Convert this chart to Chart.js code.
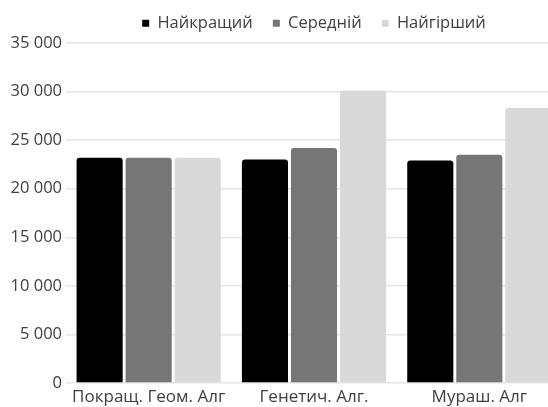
<!DOCTYPE html>
<html>
<head>
<meta charset="utf-8">
<script src="https://cdn.jsdelivr.net/npm/chart.js@4"></script>
<style>
  html, body { margin: 0; padding: 0; background: #fff; overflow: hidden; }
  #wrap { position: relative; width: 565px; height: 407px; }
</style>
</head>
<body>
<div id="wrap"><canvas id="c"></canvas></div>
<script>
// Algorithms compared
const categories = ['Покращ. Геом. Алг', 'Генетич. Алг.', 'Мураш. Алг'];
// Route length: best, average and worst run of each algorithm
const bestValues = [23200, 23000, 22900];
const avgValues = [23200, 24200, 23500];
const worstValues = [23200, 30100, 28300];
const seriesNames = ['Найкращий', 'Середній', 'Найгірший'];
const yTicks = [0, 5000, 10000, 15000, 20000, 25000, 30000, 35000];

const FONT = "'Open Sans', 'DejaVu Sans', sans-serif";
const TEXT = '#404040';

// Fixed legend band height so the plot starts just under it
const legendBand = {
  id: 'legendBand',
  beforeInit(chart) {
    const fit = chart.legend.fit;
    chart.legend.fit = function () {
      fit.call(this);
      this.height = 48;
    };
  }
};

const fmt = v => String(v).replace(/\B(?=(\d{3})+(?!\d))/g, ' ');

new Chart(document.getElementById('c'), {
  type: 'bar',
  data: {
    labels: categories,
    datasets: [
      { label: seriesNames[0], data: bestValues, backgroundColor: '#000000' },
      { label: seriesNames[1], data: avgValues, backgroundColor: '#767676' },
      { label: seriesNames[2], data: worstValues, backgroundColor: '#d9d9d9' }
    ]
  },
  options: {
    responsive: true,
    maintainAspectRatio: false,
    animation: false,
    layout: { padding: { left: 0, right: 3, top: -5, bottom: 0 } },
    datasets: {
      bar: {
        categoryPercentage: 0.89,
        barPercentage: 0.94,
        borderRadius: 3,
        borderSkipped: 'bottom'
      }
    },
    plugins: {
      legend: {
        position: 'top',
        fullSize: false,
        labels: {
          font: { family: FONT, size: 16.5 },
          color: TEXT,
          boxWidth: 7,
          boxHeight: 7,
          padding: 20
        }
      },
      tooltip: { enabled: false }
    },
    scales: {
      x: {
        grid: { display: false, drawTicks: false },
        border: { display: false },
        ticks: {
          font: { family: FONT, size: 17 },
          color: TEXT,
          padding: 4,
          maxRotation: 0,
          autoSkip: false
        },
        afterFit(s) { s.height = 24; }
      },
      y: {
        min: 0,
        max: 35000,
        afterBuildTicks(s) { s.ticks = yTicks.map(v => ({ value: v })); },
        grid: { color: '#e4e4e4', lineWidth: 1.5, drawTicks: false },
        border: { display: false },
        ticks: {
          font: { family: FONT, size: 16.5 },
          color: TEXT,
          padding: 4,
          callback: v => fmt(v)
        },
        afterFit(s) { s.width = 66; }
      }
    }
  },
  plugins: [legendBand]
});
</script>
</body>
</html>
